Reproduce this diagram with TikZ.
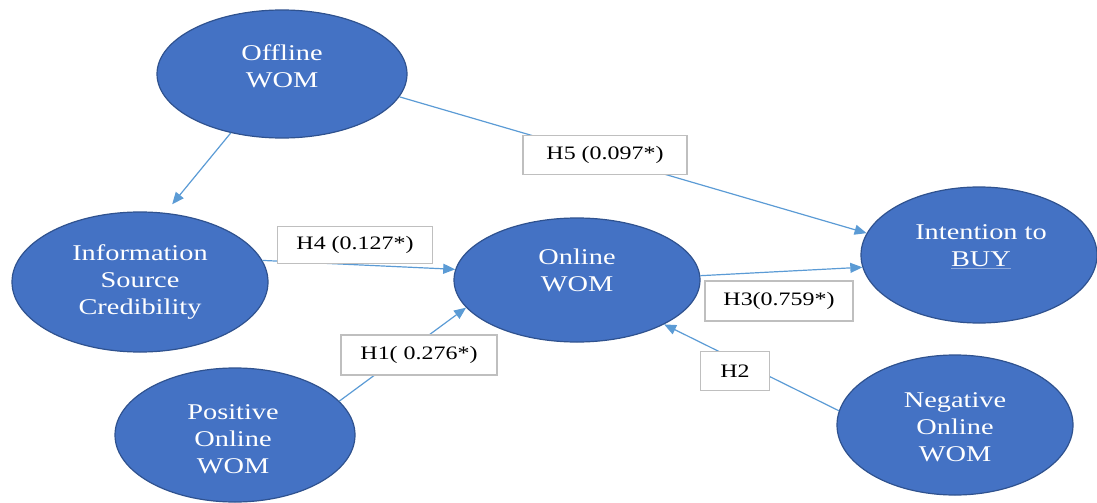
\documentclass[tikz,border=0pt]{standalone}
\usepackage{fontspec}
\setmainfont{Liberation Serif}[FakeStretch=1.26]
\usetikzlibrary{arrows.meta,shapes.geometric}
\definecolor{efill}{HTML}{4472C4}
\definecolor{edraw}{HTML}{2F528F}
\definecolor{arr}{HTML}{5B9BD5}
\definecolor{boxdraw}{HTML}{BFBFBF}
\definecolor{ulblue}{HTML}{8EA9DB}
\begin{document}
\begin{tikzpicture}[x=1pt,y=-1pt,
 ell/.style={ellipse, fill=efill, draw=edraw, line width=1.2pt, inner sep=0pt},
 etext/.style={text=white, align=center, font=\fontsize{22.5}{27}\selectfont, inner sep=0pt},
 lbl/.style={rectangle, fill=white, draw=boxdraw, line width=1.2pt, font=\fontsize{19}{22}\selectfont, inner sep=0pt, text=black},
 conn/.style={draw=arr, line width=1.2pt, -{Triangle[length=12pt,width=10pt]}}]
\useasboundingbox (0,0) rectangle (1097,503);
% ellipses
\node[ell, minimum width=250pt, minimum height=128pt] (off) at (282,74) {};
\node[ell, minimum width=256pt, minimum height=140pt] (info) at (140,282) {};
\node[ell, minimum width=246pt, minimum height=124pt] (onl) at (577,280) {};
\node[ell, minimum width=236pt, minimum height=136pt] (int) at (979,255) {};
\node[ell, minimum width=240pt, minimum height=134pt] (pos) at (235,435) {};
\node[ell, minimum width=236pt, minimum height=140pt] (neg) at (955,425) {};
% ellipse texts
\node[etext] (offT) at (282,66.5) {Offline\\WOM};
\node[etext] (infoT) at (140,282.5) {Information\\Source\\Credibility};
\node[etext] (onlT) at (577,270.5) {Online\\WOM};
\node[etext] (intT) at (981,247) {Intention to\\{\color{ulblue}\underline{\textcolor{white}{BUY}}}};
\node[etext] (posT) at (233,439) {Positive\\Online\\WOM};
\node[etext] (negT) at (955,427) {Negative\\Online\\WOM};
% connectors
\draw[conn, shorten >=11pt] (off.229) -- (info.70);
\draw[conn] (off.349) -- (int.169);
\draw[conn] (info.10.6) -- (onl.175.3);
\draw[conn] (onl.2.8) -- (int.186.3);
\draw[conn] (pos.18.8) -- (onl.194.8);
\draw[conn] (neg.173.5) -- (onl.333.7);
% labels
\node[lbl, minimum width=164pt, minimum height=39pt] (h5) at (605,155) {H5 (0.097*)};
\node[lbl, minimum width=155pt, minimum height=37pt] (h4) at (355,245) {H4 (0.127*)};
\node[lbl, minimum width=148pt, minimum height=40pt] (h3) at (779,301) {H3(0.759*)};
\node[lbl, minimum width=69pt, minimum height=39pt] (h2) at (735,371) {H2};
\node[lbl, minimum width=156pt, minimum height=40pt] (h1) at (419,355) {H1( 0.276*)};
\end{tikzpicture}
\end{document}
